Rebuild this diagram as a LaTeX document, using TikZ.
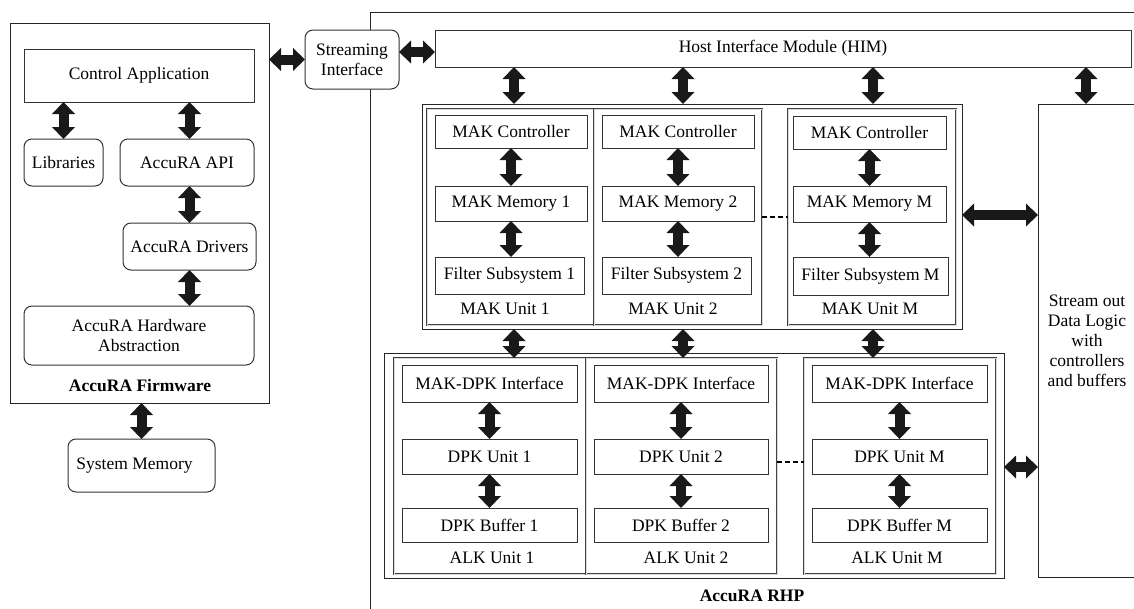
\documentclass[tikz,border=0pt]{standalone}
\usepackage{fontspec}
\setmainfont{Liberation Serif}
\usetikzlibrary{arrows.meta}
\begin{document}
\begin{tikzpicture}[x=1pt,y=-1pt,
  every node/.style={font=\fontsize{17.5}{20}\selectfont, inner sep=0pt, outer sep=0pt},
  box/.style={draw=black!80, line width=1pt, align=center},
  rbox/.style={box, rounded corners=8pt, fill=white},
  frame/.style={draw=black!85, line width=1pt, align=center},
  unitbox/.style={draw=black!75, line width=0.8pt, double=black!15, double distance=0.7pt},
  title/.style={font=\fontsize{17.5}{20}\selectfont\bfseries},
  fat/.style={draw=black!90, line width=10pt,
    {Triangle[width=23pt 0 0,length=12pt 0 0,line width=0pt 0 0]}-{Triangle[width=23pt 0 0,length=12pt 0 0,line width=0pt 0 0]}},
  link/.style={draw=black, line width=1.2pt, dash pattern=on 5pt off 3pt},
]
\useasboundingbox (0,0) rectangle (1134,608);

% ---------------- firmware side ----------------
\node[frame, minimum width=259pt, minimum height=380pt] (fw) at (139.5,213) {};
\node[box, minimum width=230pt, minimum height=53pt] (capp) at (139,75.5) {Control Application};
\node[rbox, minimum width=79pt, minimum height=47pt] (libs) at (63.5,162.5) {Libraries};
\node[rbox, minimum width=134pt, minimum height=47pt] (api) at (187,162.5) {AccuRA API};
\node[rbox, minimum width=133pt, minimum height=47pt] (drv) at (189.5,246.5) {AccuRA Drivers};
\node[rbox, minimum width=230pt, minimum height=59pt] (hwa) at (139,335.5) {AccuRA Hardware\\Abstraction};
\node[title] (fwt) at (140,386) {AccuRA Firmware};
\node[rbox, minimum width=147pt, minimum height=53pt] (smem) at (141.5,465.5) {System Memory\hspace{14pt}};

% ---------------- reconfigurable hardware platform ----------------
\node[frame, minimum width=780pt, minimum height=620pt] (rhp) at (760,322) {};
\node[title] (rhpt) at (752,596) {AccuRA RHP};

% streaming interface sits on the platform border
\node[rbox, minimum width=94pt, minimum height=59pt] (si) at (352,59.5) {Streaming\\Interface};

\node[box, minimum width=696pt, minimum height=37pt] (him) at (783,48.5) {Host Interface Module (HIM)};
\node[frame, minimum width=98pt, minimum height=473pt] (sod) at (1087,340.5)
  {Stream out\\Data Logic\\with\\controllers\\and buffers};

% MAK units
\node[frame, minimum width=540pt, minimum height=225pt] (mak) at (692,216.5) {};
\node[unitbox, minimum width=167pt, minimum height=216pt] (unit1) at (510.5,217) {};
\node[unitbox, minimum width=168pt, minimum height=216pt] (unit2) at (678,217) {};
\node[unitbox, minimum width=168pt, minimum height=216pt] (unitM) at (872,217) {};

\node[box, minimum width=152pt, minimum height=33pt] (ctrl1) at (511,131.5) {MAK Controller};
\node[box, minimum width=152pt, minimum height=35pt] (mem1) at (511,203.5) {MAK Memory 1};
\node[box, minimum width=149pt, minimum height=37pt] (filt1) at (509.5,275.5) {Filter Subsystem 1};
\node (lab1) at (505,309) {MAK Unit 1};

\node[box, minimum width=152pt, minimum height=33pt] (ctrl2) at (678,131.5) {MAK Controller};
\node[box, minimum width=152pt, minimum height=35pt] (mem2) at (678,203.5) {MAK Memory 2};
\node[box, minimum width=149pt, minimum height=37pt] (filt2) at (676.5,275.5) {Filter Subsystem 2};
\node (lab2) at (673,309) {MAK Unit 2};

\node[box, minimum width=153pt, minimum height=33pt] (ctrlM) at (869.5,132.5) {MAK Controller};
\node[box, minimum width=153pt, minimum height=36pt] (memM) at (869.5,204) {MAK Memory M};
\node[box, minimum width=155pt, minimum height=38pt] (filtM) at (870.5,276) {Filter Subsystem M};
\node (labM) at (870,309) {MAK Unit M};

% ALK units
\node[frame, minimum width=620pt, minimum height=225pt] (alk) at (694,465.5) {};
\node[unitbox, minimum width=192pt, minimum height=216pt] (aunit1) at (490,466) {};
\node[unitbox, minimum width=191pt, minimum height=216pt] (aunit2) at (681.5,466) {};
\node[unitbox, minimum width=192pt, minimum height=216pt] (aunitM) at (900,466) {};

\node[box, minimum width=175pt, minimum height=37pt] (if1) at (489.5,383.5) {MAK-DPK Interface};
\node[box, minimum width=175pt, minimum height=35pt] (dpk1) at (489.5,456.5) {DPK Unit 1};
\node[box, minimum width=175pt, minimum height=34pt] (buf1) at (489.5,525) {DPK Buffer 1};
\node (alab1) at (492,558) {ALK Unit 1};

\node[box, minimum width=174pt, minimum height=37pt] (if2) at (681,383.5) {MAK-DPK Interface};
\node[box, minimum width=174pt, minimum height=35pt] (dpk2) at (681,456.5) {DPK Unit 2};
\node[box, minimum width=174pt, minimum height=34pt] (buf2) at (681,525) {DPK Buffer 2};
\node (alab2) at (686,558) {ALK Unit 2};

\node[box, minimum width=175pt, minimum height=37pt] (ifM) at (899.5,383.5) {MAK-DPK Interface};
\node[box, minimum width=175pt, minimum height=35pt] (dpkM) at (899.5,456.5) {DPK Unit M};
\node[box, minimum width=175pt, minimum height=34pt] (bufM) at (899.5,525) {DPK Buffer M};
\node (alabM) at (897,558) {ALK Unit M};

% reference rows and columns for the connectors
\coordinate (r0) at (0,52);
\coordinate (r1) at (0,215);
\coordinate (r2) at (0,467);
\coordinate (d1) at (0,217);
\coordinate (d2) at (0,462);
\coordinate (c1) at (514,0);
\coordinate (c2) at (683,0);
\coordinate (c3) at (873,0);
\coordinate (c4) at (1086,0);

% ---------------- connectors ----------------
\draw[fat] (capp.south -| libs) -- (libs.north);
\draw[fat] (capp.south -| drv) -- (api.north -| drv);
\draw[fat] (api.south -| drv) -- (drv.north);
\draw[fat] (drv.south) -- (hwa.north -| drv);
\draw[fat] (fw.south -| smem) -- (smem.north);
\draw[fat] (fw.east |- si.west) -- (si.west);
\draw[fat] (si.east |- r0) -- (him.west |- r0);

\draw[fat] (him.south -| c1) -- (mak.north -| c1);
\draw[fat] (him.south -| c2) -- (mak.north -| c2);
\draw[fat] (him.south -| c3) -- (mak.north -| c3);
\draw[fat] (him.south -| c4) -- (sod.north -| c4);

\draw[fat] (ctrl1.south) -- (mem1.north);
\draw[fat] (mem1.south) -- (filt1.north -| mem1);
\draw[fat] (ctrl2.south) -- (mem2.north);
\draw[fat] (mem2.south) -- (filt2.north -| mem2);
\draw[fat] (ctrlM.south) -- (memM.north);
\draw[fat] (memM.south) -- (filtM.north -| memM);

\draw[fat] (mak.south -| c1) -- (aunit1.north -| c1);
\draw[fat] (mak.south -| c2) -- (aunit2.north -| c2);
\draw[fat] (mak.south -| c3) -- (aunitM.north -| c3);

\draw[fat] (if1.south) -- (dpk1.north);
\draw[fat] (dpk1.south) -- (buf1.north);
\draw[fat] (if2.south) -- (dpk2.north);
\draw[fat] (dpk2.south) -- (buf2.north);
\draw[fat] (ifM.south) -- (dpkM.north);
\draw[fat] (dpkM.south) -- (bufM.north);

\draw[fat] (mak.east |- r1) -- (sod.west |- r1);
\draw[fat] (alk.east |- r2) -- (sod.west |- r2);

\draw[link] (unit2.east |- d1) -- (unitM.west |- d1);
\draw[link] (aunit2.east |- d2) -- (aunitM.west |- d2);
\end{tikzpicture}
\end{document}
